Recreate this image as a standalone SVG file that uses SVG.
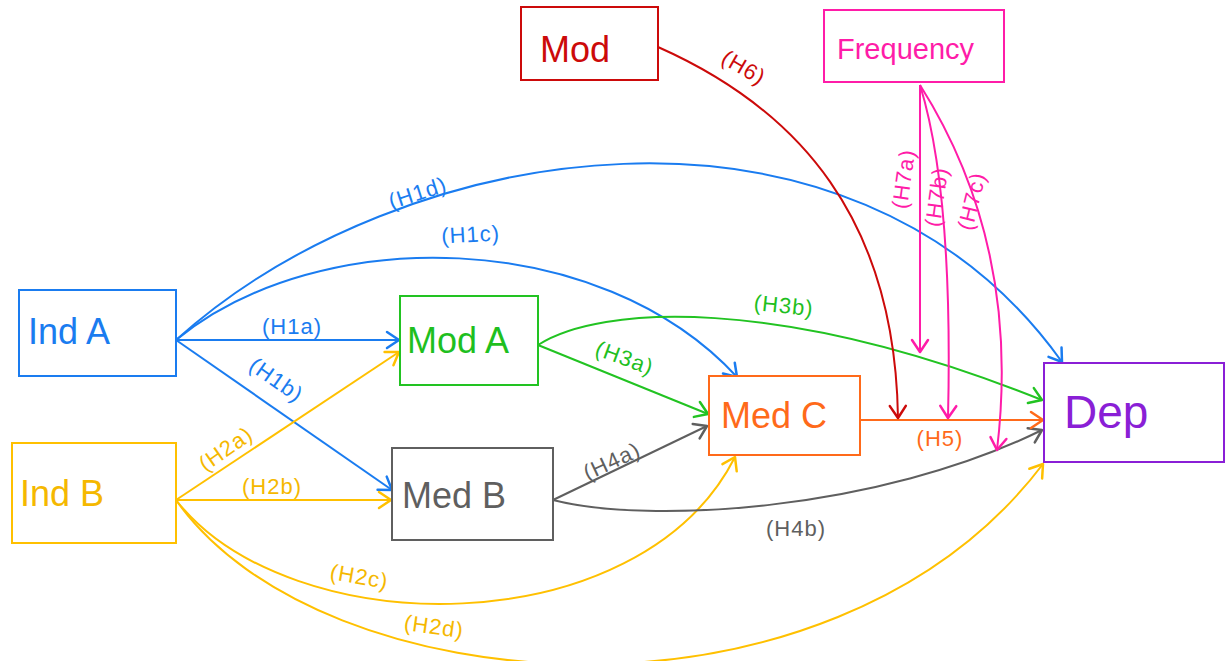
<svg xmlns="http://www.w3.org/2000/svg" width="1230" height="661" viewBox="0 0 1230 661">
<style>
  .box{fill:#fff;stroke-width:2}
  .nl{font-family:"Liberation Sans",Arial,sans-serif;font-size:36px}
  .el{font-family:"Liberation Sans",Arial,sans-serif;font-size:22px;letter-spacing:1px;text-anchor:middle}
  .c{fill:none;stroke-width:2}
  .blue{stroke:#1a7cf0}.tblue{fill:#1a7cf0}
  .yel{stroke:#ffc000}.tyel{fill:#f5b800}
  .grn{stroke:#22c322}.tgrn{fill:#1fbf1f}
  .gry{stroke:#5f5f5f}.tgry{fill:#5f5f5f}
  .org{stroke:#ff6a1a}.torg{fill:#ff6a1a}
  .pur{stroke:#8a1fd6}.tpur{fill:#8a1fd6}
  .red{stroke:#cc0a0a}.tred{fill:#cc0a0a}
  .pnk{stroke:#ff1ca8}.tpnk{fill:#ff1ca8}
</style>
<defs>
  <marker id="mBlue" viewBox="-15 -11 17 22" markerWidth="17" markerHeight="22" refX="0" refY="0" orient="auto" markerUnits="userSpaceOnUse"><path d="M-12,-8 L0,0 L-12,8" fill="none" stroke="#1a7cf0" stroke-width="2.5" stroke-linecap="round" stroke-linejoin="round"/></marker>
  <marker id="mYel" viewBox="-15 -11 17 22" markerWidth="17" markerHeight="22" refX="0" refY="0" orient="auto" markerUnits="userSpaceOnUse"><path d="M-12,-8 L0,0 L-12,8" fill="none" stroke="#ffc000" stroke-width="2.5" stroke-linecap="round" stroke-linejoin="round"/></marker>
  <marker id="mGrn" viewBox="-15 -11 17 22" markerWidth="17" markerHeight="22" refX="0" refY="0" orient="auto" markerUnits="userSpaceOnUse"><path d="M-12,-8 L0,0 L-12,8" fill="none" stroke="#22c322" stroke-width="2.5" stroke-linecap="round" stroke-linejoin="round"/></marker>
  <marker id="mGry" viewBox="-15 -11 17 22" markerWidth="17" markerHeight="22" refX="0" refY="0" orient="auto" markerUnits="userSpaceOnUse"><path d="M-12,-8 L0,0 L-12,8" fill="none" stroke="#5f5f5f" stroke-width="2.5" stroke-linecap="round" stroke-linejoin="round"/></marker>
  <marker id="mOrg" viewBox="-15 -11 17 22" markerWidth="17" markerHeight="22" refX="0" refY="0" orient="auto" markerUnits="userSpaceOnUse"><path d="M-12,-8 L0,0 L-12,8" fill="none" stroke="#ff6a1a" stroke-width="2.5" stroke-linecap="round" stroke-linejoin="round"/></marker>
  <marker id="mRed" viewBox="-15 -11 17 22" markerWidth="17" markerHeight="22" refX="0" refY="0" orient="auto" markerUnits="userSpaceOnUse"><path d="M-12,-8 L0,0 L-12,8" fill="none" stroke="#cc0a0a" stroke-width="2.5" stroke-linecap="round" stroke-linejoin="round"/></marker>
  <marker id="mPnk" viewBox="-15 -11 17 22" markerWidth="17" markerHeight="22" refX="0" refY="0" orient="auto" markerUnits="userSpaceOnUse"><path d="M-12,-8 L0,0 L-12,8" fill="none" stroke="#ff1ca8" stroke-width="2.5" stroke-linecap="round" stroke-linejoin="round"/></marker>
</defs>
<rect width="1230" height="661" fill="#fff"/>

<g id="connectors">
  <g id="H1a"><path class="c blue" d="M176,340 L399,340" marker-end="url(#mBlue)"/><text class="el tblue" x="292" y="334">(H1a)</text></g>
  <g id="H1b"><path class="c blue" d="M176,340 L392,490" marker-end="url(#mBlue)"/><text class="el tblue" transform="translate(272,386) rotate(35)">(H1b)</text></g>
  <g id="H1c"><path class="c blue" d="M176,340 C320,222 600,228 737,377" marker-end="url(#mBlue)"/><text class="el tblue" transform="translate(471,242) rotate(-3)">(H1c)</text></g>
  <g id="H1d"><path class="c blue" d="M176,340 C400,138 850,65 1062,362" marker-end="url(#mBlue)"/><text class="el tblue" transform="translate(420,200) rotate(-18)">(H1d)</text></g>

  <g id="H2a"><path class="c yel" d="M176,500 L399,352" marker-end="url(#mYel)"/><text class="el tyel" transform="translate(230,455) rotate(-35)">(H2a)</text></g>
  <g id="H2b"><path class="c yel" d="M176,500 L391,500" marker-end="url(#mYel)"/><text class="el tyel" x="272" y="494">(H2b)</text></g>
  <g id="H2c"><path class="c yel" d="M176,500 C290,645 640,645 735,457" marker-end="url(#mYel)"/><text class="el tyel" transform="translate(358,584) rotate(10)">(H2c)</text></g>
  <g id="H2d"><path class="c yel" d="M176,500 C320,705 830,745 1043,464" marker-end="url(#mYel)"/><text class="el tyel" transform="translate(433,634) rotate(8)">(H2d)</text></g>

  <g id="H3a"><path class="c grn" d="M538,345 L708,414" marker-end="url(#mGrn)"/><text class="el tgrn" transform="translate(622,365) rotate(20)">(H3a)</text></g>
  <g id="H3b"><path class="c grn" d="M538,345 C600,305 780,295 1042,400" marker-end="url(#mGrn)"/><text class="el tgrn" transform="translate(783,313) rotate(6)">(H3b)</text></g>

  <g id="H4a"><path class="c gry" d="M553,500 L707,426" marker-end="url(#mGry)"/><text class="el tgry" transform="translate(615,468) rotate(-25)">(H4a)</text></g>
  <g id="H4b"><path class="c gry" d="M553,500 C650,525 880,510 1042,430" marker-end="url(#mGry)"/><text class="el tgry" x="796" y="536">(H4b)</text></g>

  <g id="H5"><path class="c org" d="M860,420 L1043,420" marker-end="url(#mOrg)"/><text class="el torg" x="940" y="446">(H5)</text></g>

  <g id="H6"><path class="c red" d="M658,47 C800,110 895,220 898,418" marker-end="url(#mRed)"/><text class="el tred" transform="translate(740,74) rotate(30)">(H6)</text></g>

  <g id="H7a"><path class="c pnk" d="M920,85 L920,352" marker-end="url(#mPnk)"/><text class="el tpnk" transform="translate(911,180) rotate(-82)">(H7a)</text></g>
  <g id="H7b"><path class="c pnk" d="M920,85 C940,150 952,250 948,418" marker-end="url(#mPnk)"/><text class="el tpnk" transform="translate(944,198) rotate(-82)">(H7b)</text></g>
  <g id="H7c"><path class="c pnk" d="M920,85 C980,180 1015,300 997,450" marker-end="url(#mPnk)"/><text class="el tpnk" transform="translate(979,203) rotate(-76)">(H7c)</text></g>
</g>

<g id="Mod"><rect class="box red" x="521" y="7" width="137" height="73"/><text class="nl tred" x="540" y="62">Mod</text></g>
<g id="Frequency"><rect class="box pnk" x="824" y="10" width="180" height="72"/><text class="nl tpnk" x="837" y="59" style="font-size:29px">Frequency</text></g>
<g id="IndA"><rect class="box blue" x="19" y="290" width="157" height="86"/><text class="nl tblue" x="28" y="344">Ind A</text></g>
<g id="ModA"><rect class="box grn" x="400" y="296" width="138" height="89"/><text class="nl tgrn" x="407" y="353">Mod A</text></g>
<g id="IndB"><rect class="box yel" x="12" y="443" width="164" height="100"/><text class="nl tyel" x="20" y="506">Ind B</text></g>
<g id="MedB"><rect class="box gry" x="392" y="448" width="161" height="92"/><text class="nl tgry" x="402" y="508">Med B</text></g>
<g id="MedC"><rect class="box org" x="709" y="376" width="151" height="79"/><text class="nl torg" x="721" y="428">Med C</text></g>
<g id="Dep"><rect class="box pur" x="1044" y="363" width="180" height="99"/><text class="nl tpur" x="1064" y="428" style="font-size:46px">Dep</text></g>
</svg>
